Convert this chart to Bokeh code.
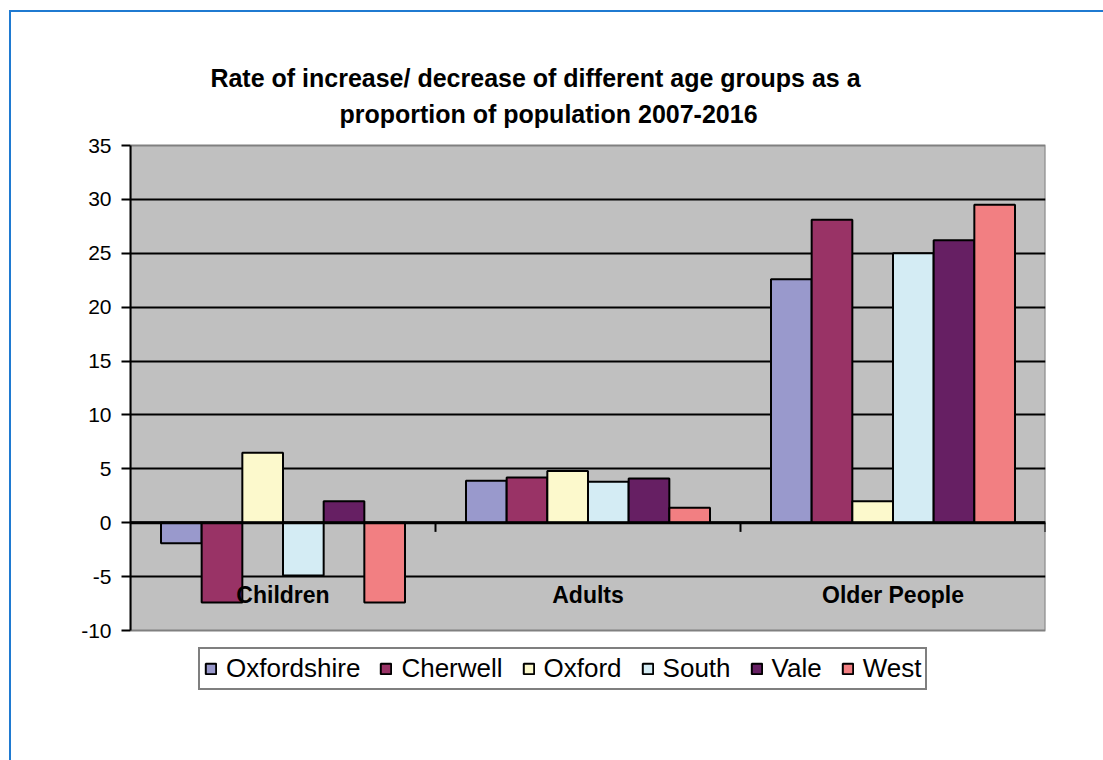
from bokeh.plotting import figure
from bokeh.models import (FactorRange, Range1d, FixedTicker, Span, Legend, LegendItem,
                          Label, ColumnDataSource, PrintfTickFormatter)
from bokeh.transform import dodge
from bokeh.core.properties import value
from bokeh.embed import file_html
from bokeh.resources import INLINE

# Age groups on the x axis
groups = ["Children", "Adults", "Older People"]

# Percentage change 2007-2016 per district, one value per age group
oxfordshire = [-1.9, 3.9, 22.6]
cherwell = [-7.4, 4.2, 28.1]
oxford = [6.5, 4.8, 2.0]
south = [-4.9, 3.8, 25.0]
vale = [2.0, 4.1, 26.2]
west = [-7.4, 1.4, 29.5]

series_names = ["Oxfordshire", "Cherwell", "Oxford", "South", "Vale", "West"]
series_values = [oxfordshire, cherwell, oxford, south, vale, west]
series_colors = ["#9999CC", "#993366", "#FCF9CC", "#D4ECF4", "#661F63", "#F27F82"]

y_ticks = [-10, -5, 0, 5, 10, 15, 20, 25, 30, 35]
y_min, y_max = -10, 35

FONT = "Liberation Sans"
FRAME_BLUE = "#1F7AD1"

W, H = 1103, 760
PLOT_LEFT, PLOT_RIGHT = 130, 1045       # page px of the value area
PLOT_TOP, PLOT_BOTTOM = 145, 630
px_per_unit = (PLOT_BOTTOM - PLOT_TOP) / (y_max - y_min)

# the frame spans the full height so titles and legend live inside it;
# the grey value area is limited to y_min..y_max
p = figure(width=W, height=H, x_range=FactorRange(*groups, range_padding=0),
           y_range=Range1d(y_min - (H - PLOT_BOTTOM) / px_per_unit,
                           y_max + PLOT_TOP / px_per_unit),
           output_backend="svg", toolbar_location=None,
           min_border_left=PLOT_LEFT, min_border_right=W - PLOT_RIGHT,
           min_border_top=0, min_border_bottom=0)

p.background_fill_color = None
p.border_fill_color = None
p.outline_line_color = None

# thin blue page frame behind the transparent canvas
p.styles = {
    "background": (f"linear-gradient({FRAME_BLUE},{FRAME_BLUE}) 9px 10px / 2px 2000px no-repeat, "
                   f"linear-gradient({FRAME_BLUE},{FRAME_BLUE}) 9px 10px / 2000px 2px no-repeat, "
                   "#ffffff")
}

# grey value area with its border
p.quad(left=[0], right=[len(groups)], bottom=[y_min], top=[y_max],
       fill_color="#C0C0C0", line_color="#808080", line_width=2, level="image")

# horizontal grid lines
p.xgrid.visible = False
p.ygrid.ticker = FixedTicker(ticks=y_ticks[1:-1])
p.ygrid.grid_line_color = "black"
p.ygrid.grid_line_width = 2

# value axis
p.yaxis.bounds = (y_min, y_max)
p.yaxis.ticker = FixedTicker(ticks=y_ticks)
p.yaxis.formatter = PrintfTickFormatter(format="%d")
p.yaxis.axis_line_color = "black"
p.yaxis.axis_line_width = 2
p.yaxis.major_tick_line_width = 2
p.yaxis.major_tick_out = 9
p.yaxis.major_tick_in = 0
p.yaxis.minor_tick_line_color = None
p.yaxis.major_label_text_font = FONT
p.yaxis.major_label_text_font_size = "21px"
p.yaxis.major_label_text_color = "black"
p.yaxis.major_label_standoff = 10

p.xaxis.visible = False

# bars, six per age group
n = len(series_names)
bar_w = 0.8 / n
src = ColumnDataSource(dict(groups=groups, **{name: vals for name, vals in zip(series_names, series_values)}))
items = []
for i, (name, color) in enumerate(zip(series_names, series_colors)):
    off = (i - (n - 1) / 2) * bar_w
    r = p.vbar(x=dodge("groups", off, range=p.x_range), top=name, bottom=0, width=bar_w,
               source=src, fill_color=color, line_color="black", line_width=2)
    items.append(LegendItem(label=name, renderers=[r]))

# category axis drawn along zero
p.add_layout(Span(location=0, dimension="width", line_color="black", line_width=3))
p.segment(x0=[1, 2, 3], y0=[0, 0, 0], x1=[1, 2, 3], y1=[-0.85, -0.85, -0.85],
          line_color="black", line_width=2)
p.text(x=groups, y=[-6.7] * 3, text=groups, text_align="center", text_baseline="middle",
       text_font=value(FONT), text_font_size="23px", text_font_style="bold",
       text_color="black")

# two-line title (screen offsets from the frame's bottom-left corner)
title_lines = ["Rate of increase/ decrease of different age groups as a",
               "proportion of population 2007-2016"]
for txt, cx, cy in zip(title_lines, [535, 548], [77, 113]):
    p.add_layout(Label(x=cx - PLOT_LEFT, y=H - cy, x_units="screen", y_units="screen",
                       text=txt, text_align="center", text_baseline="middle",
                       text_font=FONT, text_font_size="25px", text_font_style="bold",
                       text_color="black"))

legend = Legend(items=items, orientation="horizontal", location=(68, 70), margin=0,
                label_text_font=FONT, label_text_font_size="26px", label_text_color="black",
                glyph_width=13, glyph_height=13, label_standoff=9, spacing=19,
                padding=4, border_line_color="black", border_line_width=2.5,
                background_fill_color="white")
p.add_layout(legend)

open("out.html", "w").write(file_html(p, INLINE))
